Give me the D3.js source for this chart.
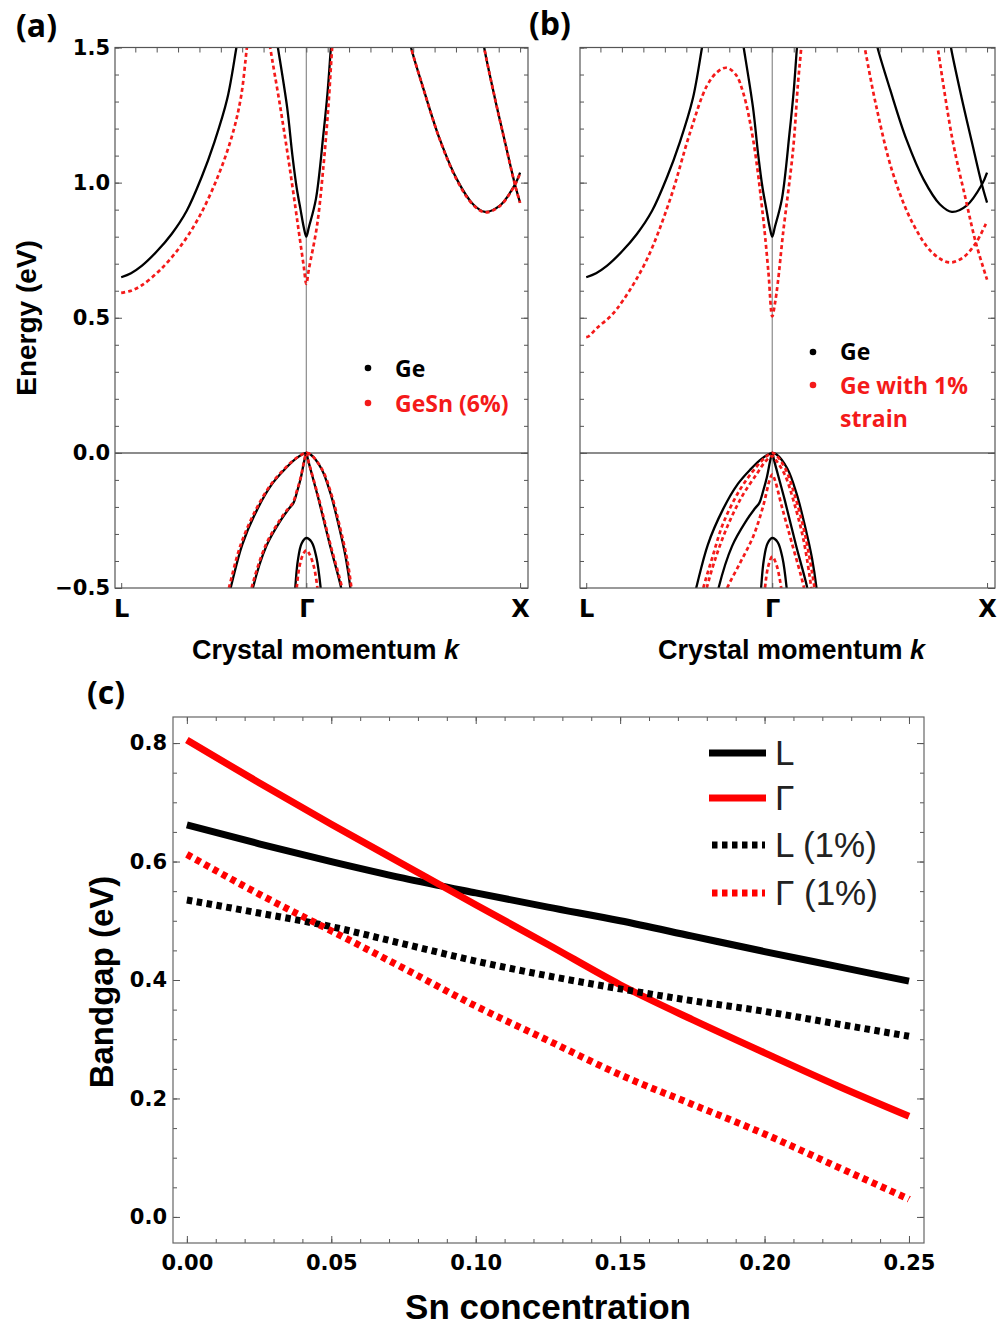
<!DOCTYPE html>
<html>
<head>
<meta charset="utf-8">
<script src="https://cdn.jsdelivr.net/npm/d3@7"></script>
<style>
  body { margin: 0; background: #fff; }
  svg { display: block; }
</style>
</head>
<body>
<svg id="fig" width="998" height="1329"></svg>
<script>
// ---- band structure data: [k, E(eV)], k in units of 2pi/a (L = -0.866, X = 1) ----
const kPoints = [-0.866, 0, 1];
const kNames = ['L', 'Γ', 'X'];
const energyTicks = [-0.5, 0, 0.5, 1.0, 1.5];

// Ge (black, same in both panels)
const geCondL = [[-0.866,0.650],[-0.82,0.665],[-0.77,0.692],[-0.70,0.745],[-0.63,0.81],[-0.56,0.895],[-0.49,1.02],[-0.43,1.15],[-0.37,1.31],[-0.327,1.50],[-0.31,1.58]];
const geCondG = [[-0.145,1.56],[-0.133,1.50],[-0.09,1.28],[-0.065,1.10],[-0.045,0.98],[-0.027,0.90],[-0.012,0.835],[0,0.80],[0.012,0.835],[0.045,0.94],[0.08,1.18],[0.100,1.34],[0.115,1.50],[0.122,1.56]];
const geCondX1 = [[0.48,1.54],[0.49,1.50],[0.549,1.344],[0.625,1.159],[0.705,1.011],[0.78,0.92],[0.836,0.892],[0.905,0.915],[0.976,0.993],[1.0,1.037]];
const geCondX2 = [[0.825,1.54],[0.832,1.50],[0.88,1.32],[0.928,1.155],[0.976,0.993],[1.0,0.926]];
const geHH = [[-0.37,-0.55],[-0.354,-0.50],[-0.30,-0.34],[-0.23,-0.21],[-0.16,-0.115],[-0.10,-0.06],[-0.05,-0.022],[0,0],[0.02,-0.006],[0.07,-0.058],[0.113,-0.15],[0.155,-0.28],[0.185,-0.39],[0.206,-0.50],[0.212,-0.55]];
const geLH = [[-0.262,-0.55],[-0.25,-0.50],[-0.187,-0.345],[-0.12,-0.25],[-0.08,-0.205],[-0.06,-0.185],[-0.042,-0.14],[-0.025,-0.09],[-0.01,-0.03],[0,0],[0.008,-0.026],[0.058,-0.174],[0.11,-0.34],[0.163,-0.50],[0.172,-0.55]];
const geSO = [[-0.058,-0.55],[-0.052,-0.50],[-0.04,-0.40],[-0.022,-0.335],[0,-0.315],[0.025,-0.33],[0.048,-0.39],[0.067,-0.50],[0.072,-0.55]];

// GeSn 6% (red, panel a)
const gesnCondL = [[-0.866,0.592],[-0.82,0.60],[-0.77,0.62],[-0.685,0.676],[-0.59,0.763],[-0.50,0.875],[-0.41,1.03],[-0.345,1.18],[-0.305,1.32],[-0.278,1.50],[-0.268,1.56]];
const gesnCondG = [[-0.18,1.56],[-0.169,1.50],[-0.122,1.28],[-0.075,1.04],[-0.03,0.79],[-0.012,0.69],[0,0.625],[0.012,0.68],[0.05,0.84],[0.08,1.06],[0.103,1.28],[0.121,1.50],[0.128,1.56]];
const gesnCondX1 = [[0.48,1.54],[0.49,1.50],[0.549,1.344],[0.625,1.158],[0.705,1.008],[0.78,0.918],[0.836,0.890],[0.905,0.913],[0.976,0.992],[1.0,1.035]];
const gesnCondX2 = [[0.825,1.54],[0.832,1.50],[0.88,1.32],[0.928,1.154],[0.976,0.992],[1.0,0.925]];
const gesnHH = [[-0.378,-0.55],[-0.362,-0.50],[-0.307,-0.34],[-0.236,-0.21],[-0.164,-0.115],[-0.103,-0.06],[-0.052,-0.022],[0,0],[0.02,-0.006],[0.072,-0.058],[0.116,-0.15],[0.159,-0.28],[0.19,-0.39],[0.211,-0.50],[0.217,-0.55]];
const gesnLH = [[-0.268,-0.55],[-0.256,-0.50],[-0.192,-0.345],[-0.125,-0.25],[-0.084,-0.205],[-0.063,-0.185],[-0.044,-0.14],[-0.026,-0.09],[-0.01,-0.03],[0,0],[0.008,-0.026],[0.06,-0.174],[0.113,-0.34],[0.167,-0.50],[0.176,-0.55]];
const gesnSO = [[-0.05,-0.55],[-0.045,-0.50],[-0.032,-0.42],[-0.015,-0.375],[0,-0.36],[0.015,-0.375],[0.035,-0.42],[0.052,-0.50],[0.058,-0.55]];

// Ge with 1% strain (red, panel b)
const strCondLG = [[-0.866,0.428],[-0.855,0.431],[-0.816,0.462],[-0.75,0.508],[-0.692,0.567],[-0.584,0.715],[-0.476,0.937],[-0.383,1.184],[-0.305,1.357],[-0.255,1.41],[-0.213,1.425],[-0.17,1.40],[-0.135,1.332],[-0.089,1.159],[-0.043,0.875],[-0.018,0.67],[0,0.505],[0.012,0.55],[0.026,0.63],[0.05,0.81],[0.097,1.122],[0.120,1.369],[0.135,1.50],[0.14,1.56]];
const strCondX1 = [[0.42,1.54],[0.429,1.505],[0.484,1.283],[0.561,1.036],[0.653,0.851],[0.746,0.740],[0.824,0.705],[0.885,0.721],[0.948,0.777],[1.0,0.857]];
const strCondX2 = [[0.762,1.54],[0.769,1.505],[0.839,1.159],[0.901,0.937],[0.948,0.777],[1.0,0.641]];
const strHH = [[-0.335,-0.55],[-0.321,-0.50],[-0.28,-0.39],[-0.228,-0.26],[-0.151,-0.137],[-0.073,-0.051],[-0.03,-0.015],[0,0],[0.02,-0.01],[0.062,-0.06],[0.106,-0.16],[0.152,-0.30],[0.197,-0.50],[0.205,-0.55]];
const strLH = [[-0.318,-0.55],[-0.305,-0.50],[-0.26,-0.38],[-0.205,-0.265],[-0.14,-0.16],[-0.07,-0.075],[-0.03,-0.03],[0,-0.012],[0.02,-0.03],[0.058,-0.08],[0.10,-0.18],[0.145,-0.32],[0.182,-0.50],[0.19,-0.55]];
const strLH2 = [[-0.225,-0.55],[-0.213,-0.507],[-0.151,-0.409],[-0.089,-0.31],[-0.043,-0.199],[-0.012,-0.10],[0,-0.08],[0.012,-0.10],[0.045,-0.2],[0.09,-0.33],[0.148,-0.50],[0.158,-0.55]];
const strSO = [[-0.04,-0.55],[-0.035,-0.507],[-0.019,-0.421],[0,-0.384],[0.02,-0.415],[0.043,-0.507],[0.048,-0.55]];

// ---- bandgap vs Sn concentration (panel c) ----
const snConc = [0, 0.025, 0.05, 0.075, 0.1, 0.125, 0.15, 0.175, 0.2, 0.225, 0.25];
const gapL   = [0.662, 0.630, 0.600, 0.572, 0.547, 0.523, 0.500, 0.474, 0.448, 0.423, 0.398];
const gapG   = [0.805, 0.733, 0.663, 0.595, 0.527, 0.460, 0.392, 0.333, 0.277, 0.222, 0.170];
const gapL1  = [0.535, 0.513, 0.490, 0.461, 0.432, 0.407, 0.385, 0.365, 0.347, 0.326, 0.305];
const gapG1  = [0.612, 0.545, 0.483, 0.420, 0.356, 0.298, 0.240, 0.190, 0.140, 0.085, 0.030];
const gapXTicks = [0, 0.05, 0.10, 0.15, 0.20, 0.25];
const gapYTicks = [0, 0.2, 0.4, 0.6, 0.8];

const RED = '#f41a1a';
const svg = d3.select('#fig');
const tickFont = 'DejaVu Sans, Arial, sans-serif';
const titleFont = 'Liberation Sans, Arial, sans-serif';
const legendFont = 'Open Sans, Calibri, sans-serif';

function styleAxis(sel) {
  sel.select('.domain').remove();
  sel.selectAll('.tick line').attr('stroke', '#555').attr('stroke-width', 1);
  sel.selectAll('.tick text').attr('fill', '#000').attr('font-family', tickFont)
    .attr('font-weight', 'bold').attr('font-size', 21);
}

function bandPanel(left, right, blackBands, redBands, showE) {
  const top = 47.5, bottom = 588;
  const x = d3.scaleLinear().domain([-0.895, 1.037]).range([left, right]);
  const y = d3.scaleLinear().domain([-0.5, 1.5]).range([bottom, top]);
  const g = svg.append('g');
  const clipId = 'clip' + left;
  svg.append('clipPath').attr('id', clipId).append('rect')
    .attr('x', left).attr('y', top).attr('width', right - left).attr('height', bottom - top);

  // zero line and Gamma line
  g.append('line').attr('x1', left).attr('x2', right).attr('y1', y(0)).attr('y2', y(0))
    .attr('stroke', '#8c8c8c').attr('stroke-width', 2);
  g.append('line').attr('x1', x(0)).attr('x2', x(0)).attr('y1', top).attr('y2', bottom)
    .attr('stroke', '#8c8c8c').attr('stroke-width', 1.2);

  const line = d3.line().x(d => x(d[0])).y(d => y(d[1])).curve(d3.curveCatmullRom.alpha(0.5));
  const curves = g.append('g').attr('clip-path', `url(#${clipId})`);
  curves.selectAll('path.black').data(blackBands).enter().append('path')
    .attr('class', 'black').attr('d', line).attr('fill', 'none')
    .attr('stroke', '#000').attr('stroke-width', 2.3);
  curves.selectAll('path.red').data(redBands).enter().append('path')
    .attr('class', 'red').attr('d', line).attr('fill', 'none')
    .attr('stroke', RED).attr('stroke-width', 2.7).attr('stroke-dasharray', '4,3');

  // frame ticks (all inward)
  g.append('g').attr('transform', `translate(0,${top})`)
    .call(d3.axisTop(x).tickValues(d3.range(-0.8, 1.001, 0.1)).tickSize(-5).tickFormat(''))
    .call(styleAxis);
  g.append('g').attr('transform', `translate(0,${bottom})`)
    .call(d3.axisBottom(x).tickValues(kPoints).tickSize(-5).tickPadding(12).tickFormat((d, i) => kNames[i]))
    .call(styleAxis)
    .selectAll('.tick text').attr('font-size', 24);
  [[left, d3.axisLeft], [right, d3.axisRight]].forEach(([pos, axisFn], side) => {
    g.append('g').attr('transform', `translate(${pos},0)`)
      .call(axisFn(y).tickValues(d3.range(-0.5, 1.501, 0.1)).tickSize(-4).tickFormat(''))
      .call(styleAxis);
    g.append('g').attr('transform', `translate(${pos},0)`)
      .call(axisFn(y).tickValues(energyTicks).tickSize(-7).tickPadding(5)
        .tickFormat(showE && side === 0 ? d3.format('.1f') : ''))
      .call(styleAxis);
  });

  g.append('rect').attr('x', left).attr('y', top).attr('width', right - left).attr('height', bottom - top)
    .attr('fill', 'none').attr('stroke', '#555').attr('stroke-width', 1.2);

  // x title
  const t = g.append('text').attr('x', (left + right) / 2 + 4).attr('y', 659)
    .attr('text-anchor', 'middle').attr('font-family', titleFont).attr('font-weight', 'bold')
    .attr('font-size', 27).text('Crystal momentum ');
  t.append('tspan').attr('font-style', 'italic').text('k');
  return { x, y };
}

bandPanel(115, 528, [geCondL, geCondG, geCondX1, geCondX2, geHH, geLH, geSO],
  [gesnCondL, gesnCondG, gesnCondX1, gesnCondX2, gesnHH, gesnLH, gesnSO], true);
bandPanel(580, 995, [geCondL, geCondG, geCondX1, geCondX2, geHH, geLH, geSO],
  [strCondLG, strCondX1, strCondX2, strHH, strLH, strLH2, strSO], false);

// y title (a)
svg.append('text').attr('transform', 'translate(36,318) rotate(-90)')
  .attr('text-anchor', 'middle').attr('font-family', titleFont).attr('font-weight', 'bold')
  .attr('font-size', 28).text('Energy (eV)');

// panel letters
[['(a)', 16, 37], ['(b)', 529, 35], ['(c)', 87, 704]].forEach(([s, px, py]) => {
  svg.append('text').attr('x', px).attr('y', py).attr('font-family', legendFont)
    .attr('font-weight', 'bold').attr('font-size', 32).text(s);
});

// legends for (a) and (b)
function dotLegend(dx, tx, rows) {
  rows.forEach(r => {
    if (r.dot !== null) {
      svg.append('circle').attr('cx', dx).attr('cy', r.dot).attr('r', 3.3).attr('fill', r.color);
    }
    svg.append('text').attr('x', tx).attr('y', r.base).attr('fill', r.color)
      .attr('font-family', legendFont).attr('font-weight', 'bold').attr('font-size', 23).text(r.label);
  });
}
dotLegend(368, 395, [
  { dot: 368, base: 377, color: '#000', label: 'Ge' },
  { dot: 403, base: 412, color: RED, label: 'GeSn (6%)' }
]);
dotLegend(813, 840, [
  { dot: 352, base: 360, color: '#000', label: 'Ge' },
  { dot: 385, base: 394, color: RED, label: 'Ge with 1%' },
  { dot: null, base: 427, color: RED, label: 'strain' }
]);

// ---- panel (c) ----
const cl = 173, cr = 924, ct = 717, cb = 1243;
const xc = d3.scaleLinear().domain([-0.0048, 0.2552]).range([cl, cr]);
const yc = d3.scaleLinear().domain([-0.044, 0.844]).range([cb, ct]);
const gc = svg.append('g');

gc.append('g').attr('transform', `translate(0,${ct})`)
  .call(d3.axisTop(xc).tickValues(d3.range(0, 0.2501, 0.01)).tickSize(-4).tickFormat('')).call(styleAxis);
gc.append('g').attr('transform', `translate(0,${ct})`)
  .call(d3.axisTop(xc).tickValues(gapXTicks).tickSize(-7).tickFormat('')).call(styleAxis);
gc.append('g').attr('transform', `translate(0,${cb})`)
  .call(d3.axisBottom(xc).tickValues(d3.range(0, 0.2501, 0.01)).tickSize(-4).tickFormat('')).call(styleAxis);
gc.append('g').attr('transform', `translate(0,${cb})`)
  .call(d3.axisBottom(xc).tickValues(gapXTicks).tickSize(-7).tickPadding(12).tickFormat(d3.format('.2f'))).call(styleAxis);
gc.append('g').attr('transform', `translate(${cl},0)`)
  .call(d3.axisLeft(yc).tickValues(d3.range(0, 0.8001, 0.05)).tickSize(-4).tickFormat('')).call(styleAxis);
gc.append('g').attr('transform', `translate(${cl},0)`)
  .call(d3.axisLeft(yc).tickValues(gapYTicks).tickSize(-7).tickPadding(6).tickFormat(d3.format('.1f'))).call(styleAxis);
gc.append('g').attr('transform', `translate(${cr},0)`)
  .call(d3.axisRight(yc).tickValues(d3.range(0, 0.8001, 0.05)).tickSize(-4).tickFormat('')).call(styleAxis);
gc.append('g').attr('transform', `translate(${cr},0)`)
  .call(d3.axisRight(yc).tickValues(gapYTicks).tickSize(-7).tickFormat('')).call(styleAxis);
gc.append('rect').attr('x', cl).attr('y', ct).attr('width', cr - cl).attr('height', cb - ct)
  .attr('fill', 'none').attr('stroke', '#666').attr('stroke-width', 1.2);

const gapSeries = [
  { name: 'L', values: gapL, color: '#000', dash: null },
  { name: 'Γ', values: gapG, color: '#ff0000', dash: null },
  { name: 'L (1%)', values: gapL1, color: '#000', dash: '5.5,4.5' },
  { name: 'Γ (1%)', values: gapG1, color: '#ff0000', dash: '5.5,4.5' }
];
const gapLine = d3.line().x((d, i) => xc(snConc[i])).y(d => yc(d)).curve(d3.curveMonotoneX);
gc.selectAll('path.gap').data(gapSeries).enter().append('path')
  .attr('class', 'gap').attr('d', d => gapLine(d.values)).attr('fill', 'none')
  .attr('stroke', d => d.color).attr('stroke-width', 7)
  .attr('stroke-dasharray', d => d.dash);

// legend (c)
const legY = [753, 798, 845, 893];
gapSeries.forEach((s, i) => {
  gc.append('line').attr('x1', s.dash ? 712 : 709).attr('x2', s.dash ? 765 : 766)
    .attr('y1', legY[i]).attr('y2', legY[i])
    .attr('stroke', s.color).attr('stroke-width', 7).attr('stroke-dasharray', s.dash);
  gc.append('text').attr('x', 775).attr('y', legY[i] + 12).attr('font-family', titleFont)
    .attr('font-size', 35).attr('fill', '#222').text(s.name);
});

// titles (c)
svg.append('text').attr('transform', 'translate(113,982) rotate(-90)')
  .attr('text-anchor', 'middle').attr('font-family', titleFont).attr('font-weight', 'bold')
  .attr('font-size', 33).text('Bandgap (eV)');
svg.append('text').attr('x', 548).attr('y', 1319)
  .attr('text-anchor', 'middle').attr('font-family', titleFont).attr('font-weight', 'bold')
  .attr('font-size', 35).text('Sn concentration');
</script>
</body>
</html>
